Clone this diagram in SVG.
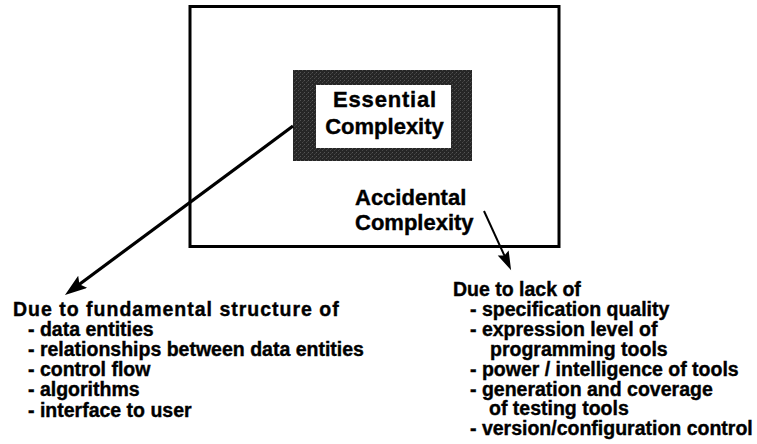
<svg xmlns="http://www.w3.org/2000/svg" width="757" height="444" viewBox="0 0 757 444">
  <style>
    text { font-family: "Liberation Sans", Arial, sans-serif; font-weight: bold; fill: #000; stroke: #000; stroke-width: 0.4; }
    .label { font-size: 22px; }
    .list { font-size: 19.5px; }
    .frame { fill: none; stroke: #000; stroke-width: 3; }
    .conn { stroke: #000; fill: none; }
  </style>
  <defs>
    <!-- speckled halftone for the dark core frame -->
    <pattern id="stipple" width="4" height="4" patternUnits="userSpaceOnUse">
      <rect width="4" height="4" fill="#262626"/>
      <rect x="0" y="0" width="1" height="1" fill="#555"/>
      <rect x="2" y="2" width="1" height="1" fill="#4a4a4a"/>
      <rect x="3" y="1" width="1" height="1" fill="#3a3a3a"/>
    </pattern>
    <marker id="headL" markerUnits="userSpaceOnUse" markerWidth="24" markerHeight="16" refX="14" refY="7.5" orient="auto">
      <path d="M0,0 L22,7.5 L0,15 L4,7.5 Z" fill="#000"/>
    </marker>
    <marker id="headR" markerUnits="userSpaceOnUse" markerWidth="22" markerHeight="14" refX="13" refY="6" orient="auto">
      <path d="M0,0 L19,6 L0,12 L3,6 Z" fill="#000"/>
    </marker>
  </defs>

  <!-- outer system boundary -->
  <g id="accidental-boundary">
    <rect class="frame" x="190" y="6.5" width="369" height="240"/>
  </g>

  <!-- essential core -->
  <g id="essential-core">
    <rect x="293" y="70" width="179" height="91" fill="url(#stipple)"/>
    <rect x="316" y="85" width="135" height="63" fill="#fff"/>
    <text class="label" x="385" y="107" text-anchor="middle" letter-spacing="0.8">Essential</text>
    <text class="label" x="384.5" y="134" text-anchor="middle">Complexity</text>
  </g>

  <g id="accidental-label">
    <text class="label" x="355" y="205">Accidental</text>
    <text class="label" x="355" y="230">Complexity</text>
  </g>

  <!-- connectors -->
  <g id="connectors">
    <line class="conn" x1="293" y1="126" x2="71.4" y2="290.2" stroke-width="3.2" marker-end="url(#headL)"/>
    <line class="conn" x1="484" y1="211" x2="508.6" y2="264.7" stroke-width="2" marker-end="url(#headR)"/>
  </g>

  <g id="essential-causes">
    <text class="list" x="13" y="315.5" letter-spacing="1">Due to fundamental structure of</text>
    <text class="list" x="28" y="335.7">- data entities</text>
    <text class="list" x="28" y="355.9">- relationships between data entities</text>
    <text class="list" x="28" y="376.1">- control flow</text>
    <text class="list" x="28" y="396.3">- algorithms</text>
    <text class="list" x="28" y="416.5">- interface to user</text>
  </g>

  <g id="accidental-causes">
    <text class="list" x="453" y="296">Due to lack of</text>
    <text class="list" x="470" y="315.9">- specification quality</text>
    <text class="list" x="470" y="335.8">- expression level of</text>
    <text class="list" x="490" y="355.7">programming tools</text>
    <text class="list" x="470" y="375.6">- power / intelligence of tools</text>
    <text class="list" x="470" y="395.5">- generation and coverage</text>
    <text class="list" x="489" y="415.4">of testing tools</text>
    <text class="list" x="470" y="435.3">- version/configuration control</text>
  </g>
</svg>
